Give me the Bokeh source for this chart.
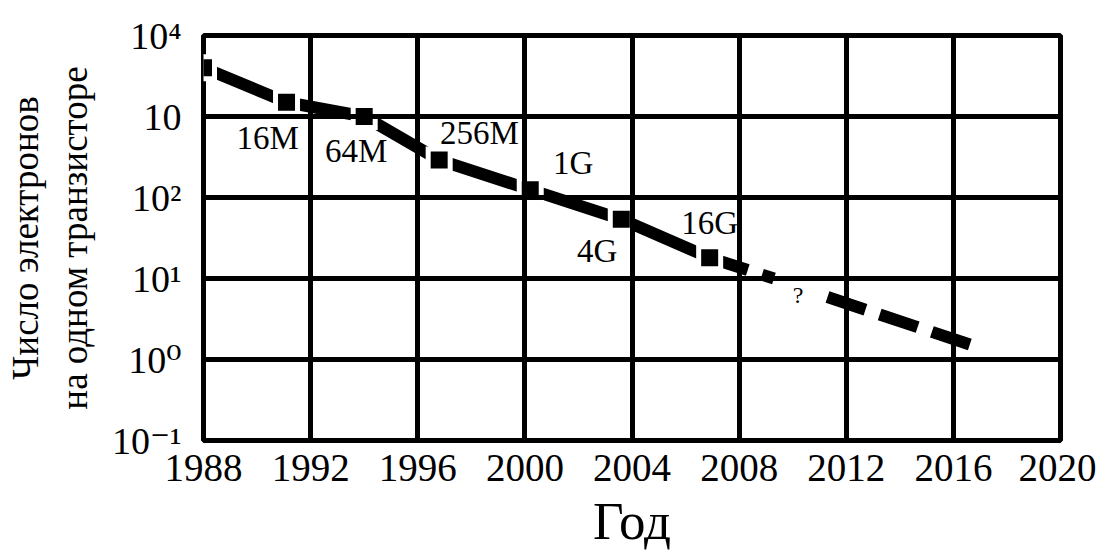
import math
from bokeh.plotting import figure
from bokeh.models import Range1d, FixedTicker, ColumnDataSource
from bokeh.core.properties import value
from bokeh.embed import file_html
from bokeh.resources import INLINE

# ---- data ----
years = [1988, 1991.1, 1994.0, 1996.8, 2000.2, 2003.6, 2006.9]
electrons = [4000, 1500, 1000, 290, 125, 54, 18]

proj_years = [2006.9, 2009.3, math.nan, 2011.3, 2016.7]
proj_electrons = [18, 10, math.nan, 5.9, 1.5]

chip_labels = ["16M", "64M", "256M", "1G", "4G", "16G"]
label_years = [1990.4, 1993.7, 1998.3, 2001.8, 2002.7, 2006.9]
label_electrons = [550, 380, 620, 265, 22, 49]

q_year = [2010.2]
q_electrons = [6.2]

x_ticks = [1988, 1992, 1996, 2000, 2004, 2008, 2012, 2016, 2020]
y_ticks = [0.1, 1, 10, 100, 1000, 10000]
y_tick_labels = ["10\u207b\u00b9", "10\u2070", "10\u00b9", "10\u00b2", "10", "10\u2074"]

FONT = "'Liberation Serif', 'Times New Roman', 'DejaVu Serif', serif"

p = figure(frame_width=857, frame_height=405, y_axis_type="log",
           x_range=Range1d(1988, 2020), y_range=Range1d(0.1, 10000),
           output_backend="svg", toolbar_location=None,
           min_border_left=203, min_border_right=36, min_border_top=35,
           min_border_bottom=10)
p.background_fill_color = "white"
p.border_fill_color = "white"
p.outline_line_color = "black"
p.outline_line_width = 5

# axes
p.xaxis.ticker = FixedTicker(ticks=x_ticks)
p.yaxis.ticker = FixedTicker(ticks=y_ticks)
p.yaxis.major_label_overrides = {t: s for t, s in zip(y_ticks, y_tick_labels)}
for ax in (p.xaxis, p.yaxis):
    ax.axis_line_color = None
    ax.major_tick_line_color = None
    ax.minor_tick_line_color = None
    ax.major_label_text_font = FONT
    ax.major_label_text_color = "black"
    ax.axis_label_text_font = FONT
    ax.axis_label_text_font_style = "normal"
    ax.axis_label_text_color = "black"
p.xaxis.major_label_text_font_size = "39px"
p.yaxis.major_label_text_font_size = "38px"
p.xaxis.major_label_standoff = 8
p.yaxis.major_label_standoff = 16
p.yaxis.major_label_orientation = "horizontal"
p.xaxis.axis_label = "Год"
p.xaxis.axis_label_text_font_size = "53px"
p.xaxis.axis_label_standoff = 8
p.yaxis.axis_label = "Число электронов\nна одном транзисторе"
p.yaxis.axis_label_text_font_size = "37px"
p.yaxis.axis_label_standoff = 14

# grid
p.xgrid.ticker = FixedTicker(ticks=x_ticks)
p.ygrid.ticker = FixedTicker(ticks=y_ticks)
for g in (p.xgrid, p.ygrid):
    g.grid_line_color = "black"
    g.grid_line_width = 5
    g.level = "annotation"
p.ygrid.minor_grid_line_color = None

# data line
src = ColumnDataSource(dict(x=years, y=electrons))
p.line("x", "y", source=src, line_color="black", line_width=12)
p.line(proj_years, proj_electrons, line_color="black", line_width=12,
       line_dash="40 15")
# white halo around markers to open gaps in the line
p.scatter("x", "y", source=src, marker="square", size=27,
          fill_color="white", line_color=None)
p.scatter("x", "y", source=src, marker="square", size=17,
          fill_color="black", line_color=None)

# chip labels
p.text(label_years, label_electrons, text=chip_labels,
       text_font=value(FONT), text_font_size="33px", text_color="black",
       text_align="center", text_baseline="middle")
p.text(q_year, q_electrons, text=["?"],
       text_font=value(FONT), text_font_size="24px", text_color="black",
       text_align="center", text_baseline="middle")

open("out.html", "w").write(file_html(p, INLINE))
